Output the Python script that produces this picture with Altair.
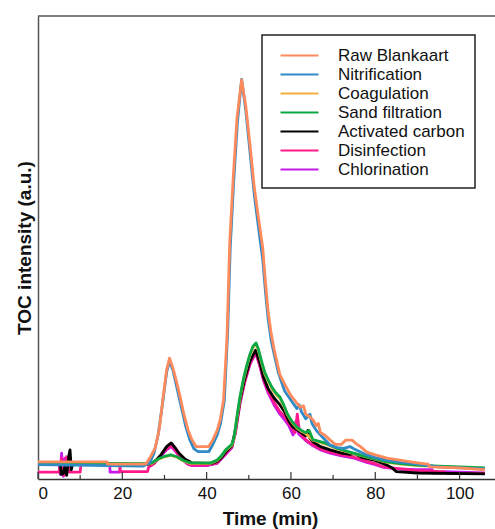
import altair as alt
import pandas as pd

# ---- data (time in min, TOC intensity in arbitrary units) ----
series_names = ["Raw Blankaart", "Nitrification", "Coagulation", "Sand filtration",
                "Activated carbon", "Disinfection", "Chlorination"]
series_colors = ["#FF8A5C", "#2F8AC6", "#F5B041", "#0AA844", "#000000", "#FF1A8C", "#C41BE8"]

raw_blankaart = [(0, 3.7), (16.4, 3.7), (16.5, 3.2), (25.5, 3.2), (26.5, 4.5), (27.8, 6.7), (28.8, 11.0),
                 (29.7, 17.8), (30.5, 23.5), (31.2, 26.1), (32.0, 24.0), (33.0, 20.5), (33.7, 17.8),
                 (34.6, 14.0), (35.6, 10.6), (36.5, 8.5), (37.5, 7.0), (40.5, 7.0), (41.5, 8.5), (42.5, 10.5),
                 (43.2, 12.7), (44.0, 17.0), (44.8, 30.0), (45.5, 51.6), (46.3, 65.0), (47.2, 78.0),
                 (48.3, 86.2), (49.3, 80.5), (50.3, 72.0), (51.3, 63.0), (52.2, 57.0), (52.7, 53.8),
                 (53.3, 50.0), (54.0, 42.0), (54.6, 36.0), (55.3, 31.5), (56.0, 28.0), (57.0, 24.0),
                 (57.4, 22.5), (58.5, 20.5), (60.0, 18.0), (61.4, 16.4), (62.2, 15.5), (63.0, 15.8),
                 (63.5, 14.0), (64.5, 13.4), (65.3, 12.7), (66.0, 11.5), (66.5, 12.0), (67.0, 10.0),
                 (68.0, 9.5), (69.3, 8.4), (70.5, 7.5), (72.0, 7.5), (73.0, 8.4), (74.5, 8.4), (75.5, 7.6),
                 (76.5, 7.0), (78.0, 5.8), (80.0, 5.2), (82.8, 4.5), (85.0, 4.2), (90.0, 3.5), (92.5, 3.2),
                 (93.0, 2.6), (100.0, 2.4), (106.0, 2.0)]

nitrification = [(0, 3.1), (25.0, 2.8), (26.5, 3.5), (27.5, 5.5), (28.5, 9.5), (29.5, 16.0), (30.5, 23.0),
                 (31.2, 25.5), (32.0, 23.5), (33.0, 19.5), (34.0, 15.5), (35.0, 11.5), (36.0, 8.5),
                 (37.0, 6.5), (38.0, 5.9), (40.5, 5.9), (41.5, 7.5), (42.5, 9.5), (43.3, 12.0), (44.2, 17.0),
                 (45.0, 32.0), (45.6, 50.0), (46.4, 64.0), (47.3, 77.0), (48.3, 86.3), (49.3, 79.5),
                 (50.3, 70.5), (51.3, 61.5), (52.2, 55.0), (52.7, 51.5), (53.3, 47.5), (54.0, 40.0),
                 (54.6, 34.5), (55.3, 30.0), (56.0, 27.0), (57.0, 23.0), (58.5, 19.0), (60.0, 17.0),
                 (61.4, 15.2), (62.0, 16.0), (62.5, 14.5), (63.5, 13.0), (64.5, 14.0), (65.0, 12.0),
                 (66.0, 10.5), (67.5, 9.0), (69.3, 7.3), (71.0, 6.8), (72.5, 6.6), (74.0, 7.0), (75.0, 6.5),
                 (78.0, 5.2), (80.0, 4.6), (83.0, 4.0), (86.0, 3.6), (90.0, 3.2), (95.0, 2.6),
                 (100.0, 2.4), (106.0, 2.2)]

coagulation = [(0, 3.4), (26.0, 3.2), (27.0, 3.4), (28.5, 4.2), (30.0, 4.8), (31.5, 5.1), (33.0, 4.7),
               (34.5, 3.9), (36.0, 3.4), (41.0, 3.4), (42.5, 4.0), (43.5, 4.9), (44.5, 6.2), (46.0, 7.3),
               (46.5, 8.8), (47.2, 13.2), (47.9, 17.4), (48.7, 21.2), (49.5, 24.2), (50.3, 26.7),
               (51.0, 28.4), (51.7, 29.1), (52.3, 27.7), (53.0, 25.2), (53.8, 22.7), (54.6, 21.1),
               (55.5, 19.5), (56.5, 18.2), (57.4, 17.4), (58.3, 15.7), (59.2, 13.8), (60.2, 12.3),
               (61.4, 11.0), (62.5, 10.3), (63.5, 9.8), (65.2, 8.4), (68.0, 7.6), (71.0, 6.5),
               (74.0, 5.7), (78.0, 4.7), (82.8, 3.6), (86.0, 3.2), (90.0, 2.9), (100.0, 2.5), (106.0, 2.3)]

sand_filtration = [(0, 3.5), (26.0, 3.3), (27.0, 3.5), (28.5, 4.3), (30.0, 4.9), (31.5, 5.2), (33.0, 4.8),
                   (34.5, 4.0), (36.0, 3.5), (41.0, 3.5), (42.5, 4.1), (43.5, 5.0), (44.5, 6.3), (46.0, 7.5),
                   (46.5, 9.0), (47.2, 13.5), (47.9, 17.7), (48.7, 21.5), (49.5, 24.5), (50.3, 27.0),
                   (51.0, 28.7), (51.7, 29.4), (52.3, 28.0), (53.0, 25.5), (53.8, 23.0), (54.6, 21.4),
                   (55.5, 19.8), (56.5, 18.5), (57.4, 17.7), (58.3, 16.0), (59.2, 14.0), (60.2, 12.5),
                   (61.4, 11.2), (62.5, 10.5), (63.5, 10.0), (64.3, 10.5), (65.2, 8.5), (66.5, 8.2),
                   (68.0, 7.8), (69.3, 7.3), (71.0, 6.6), (74.0, 5.8), (78.0, 4.8), (82.8, 3.7),
                   (86.0, 3.3), (90.0, 3.0), (95.0, 2.8), (100.0, 2.6), (106.0, 2.4)]

activated_carbon = [(0, 3.2), (5.3, 3.2), (5.5, 1.0), (6.0, 1.2), (6.3, 2.5), (6.8, 0.8), (7.3, 5.0),
                    (7.6, 6.3), (7.9, 2.0), (8.2, 3.2), (26.5, 3.2), (27.5, 3.6), (29.0, 5.0), (30.5, 7.0),
                    (31.6, 7.8), (32.5, 6.8), (33.5, 5.5), (35.0, 4.2), (36.5, 3.5), (41.0, 3.3), (42.5, 3.8),
                    (43.5, 4.6), (44.5, 5.8), (46.0, 7.2), (46.8, 10.5), (47.9, 17.0), (49.0, 21.5),
                    (50.3, 25.5), (51.6, 27.8), (52.5, 25.5), (53.5, 22.0), (54.6, 19.5), (56.0, 17.5),
                    (57.4, 16.0), (58.5, 14.5), (59.5, 12.5), (60.5, 11.2), (62.2, 10.2), (63.5, 9.3),
                    (64.0, 10.5), (64.5, 8.8), (65.3, 8.0), (67.0, 7.0), (69.3, 6.3), (72.0, 5.6),
                    (74.0, 5.3), (75.0, 5.5), (77.0, 4.6), (80.0, 4.0), (82.8, 3.0), (84.0, 2.4),
                    (85.0, 1.6), (90.0, 1.3), (106.0, 1.1)]

disinfection = [(0, 1.5), (5.0, 1.5), (5.6, 4.5), (6.2, 0.8), (6.8, 4.8), (7.4, 1.5), (10.0, 1.5),
                (10.2, 3.2), (19.4, 3.2), (19.5, 1.6), (26.0, 1.6), (26.2, 2.5), (27.5, 3.3), (29.0, 5.0),
                (30.5, 6.5), (31.6, 7.2), (32.5, 6.3), (34.0, 4.5), (35.5, 3.3), (36.5, 3.0), (40.0, 3.0),
                (42.5, 3.5), (44.5, 5.5), (46.0, 7.0), (46.8, 10.0), (47.9, 16.5), (49.0, 21.0),
                (50.3, 25.0), (51.6, 27.4), (52.5, 25.0), (53.5, 21.5), (54.6, 19.0), (56.0, 16.5),
                (57.4, 14.5), (58.5, 13.5), (59.5, 12.0), (61.0, 10.0), (61.5, 14.0), (62.0, 10.5),
                (62.5, 9.5), (63.5, 8.5), (65.0, 7.5), (67.0, 6.5), (69.3, 5.8), (72.0, 5.2), (75.0, 4.7),
                (78.0, 3.8), (80.0, 3.3), (82.0, 2.6), (85.0, 2.3), (90.0, 1.8), (96.0, 1.6), (97.0, 1.2),
                (106.0, 1.2)]

chlorination = [(0, 3.2), (5.0, 3.2), (5.3, 1.0), (5.6, 5.6), (6.0, 0.6), (6.4, 4.5), (6.8, 3.2),
                (17.0, 3.2), (17.1, 1.5), (19.4, 1.5), (19.5, 3.1), (26.0, 3.1), (27.5, 3.3), (29.0, 4.8),
                (30.5, 6.3), (31.6, 7.0), (32.5, 6.1), (34.0, 4.4), (35.5, 3.2), (36.5, 2.9), (40.0, 2.9),
                (42.5, 3.4), (44.5, 5.3), (46.0, 6.8), (46.8, 9.8), (47.9, 16.2), (49.0, 20.8),
                (50.3, 24.8), (51.6, 27.2), (52.5, 24.8), (53.5, 21.2), (54.6, 18.6), (56.0, 16.0),
                (57.4, 14.0), (58.5, 12.8), (59.5, 11.5), (60.5, 9.5), (61.2, 12.5), (61.8, 9.8),
                (63.5, 8.3), (65.0, 7.3), (67.0, 6.3), (69.3, 5.6), (72.0, 5.0), (75.0, 4.5), (78.0, 3.6),
                (80.0, 3.1), (82.0, 2.5), (85.0, 2.2), (90.0, 2.0), (93.5, 2.0), (93.6, 1.3), (96.0, 1.3),
                (96.1, 1.6), (106.0, 1.3)]

major_ticks = [0, 20, 40, 60, 80, 100]
minor_ticks = [10, 30, 50, 70, 90]
y_top = [100]

all_series = {
    "Raw Blankaart": raw_blankaart,
    "Nitrification": nitrification,
    "Coagulation": coagulation,
    "Sand filtration": sand_filtration,
    "Activated carbon": activated_carbon,
    "Disinfection": disinfection,
    "Chlorination": chlorination,
}

# drawing order (bottom -> top)
draw_order = ["Chlorination", "Disinfection", "Activated carbon", "Coagulation",
              "Sand filtration", "Nitrification", "Raw Blankaart"]

XMAX = 108.4
xscale = alt.Scale(domain=[0, XMAX], nice=False, zero=False)
yscale = alt.Scale(domain=[0, 100], nice=False)
cscale = alt.Scale(domain=series_names, range=series_colors)

legend = alt.Legend(
    title=None, orient="none", legendX=224, legendY=19,
    symbolType="M-2,0H2", symbolSize=361, symbolStrokeWidth=2,
    labelFontSize=17, labelFont="Liberation Sans", labelColor="#111",
    padding=10, symbolOffset=17, labelOffset=28, rowPadding=0,
    strokeColor="#222", labelExpr="datum.label + '\u00a0\u00a0'",
)

xaxis = alt.Axis(values=major_ticks, format="d", ticks=False, grid=False,
                 domainColor="#333", domainWidth=1.5,
                 labelFontSize=17, labelFont="Liberation Sans", labelColor="#111", labelPadding=6,
                 title="Time (min)", titleFontSize=19, titleFont="Liberation Sans",
                 titleFontWeight="bold", titleColor="#111", titlePadding=8, titleX=232)
yaxis = alt.Axis(labels=False, ticks=False, grid=False, domainColor="#555", domainWidth=1.5,
                 title="TOC intensity (a.u.)", titleFontSize=19, titleFont="Liberation Sans",
                 titleFontWeight="bold", titleColor="#111", titlePadding=4)

layers = []
for name in draw_order:
    pts = all_series[name]
    df = pd.DataFrame({"t": [p[0] for p in pts], "v": [p[1] for p in pts],
                       "i": list(range(len(pts))), "series": name})
    layers.append(
        alt.Chart(df).mark_line(strokeWidth=2.8, strokeJoin="round").encode(
            x=alt.X("t:Q", scale=xscale, axis=xaxis),
            y=alt.Y("v:Q", scale=yscale, axis=yaxis),
            color=alt.Color("series:N", scale=cscale, legend=legend),
            order=alt.Order("i:Q"),
        )
    )

major_df = pd.DataFrame({"t": major_ticks})
minor_df = pd.DataFrame({"t": minor_ticks})
major_rule = alt.Chart(major_df).mark_rule(color="#333", strokeWidth=1.2).encode(
    x=alt.X("t:Q", scale=xscale, axis=xaxis), y=alt.value(463), y2=alt.value(456))
minor_rule = alt.Chart(minor_df).mark_rule(color="#333", strokeWidth=1.2).encode(
    x=alt.X("t:Q", scale=xscale, axis=xaxis), y=alt.value(463), y2=alt.value(459))

# top frame line at the top of the y range
top_line = alt.Chart(pd.DataFrame({"v": y_top})).mark_rule(color="#555", strokeWidth=1.5).encode(
    y=alt.Y("v:Q", scale=yscale, axis=yaxis))

chart = alt.layer(*layers, major_rule, minor_rule, top_line).properties(
    width=457, height=463,
    padding={"left": 38, "top": 16, "right": 0, "bottom": 50},
    autosize=alt.AutoSizeParams(type="none"),
).configure_view(strokeWidth=0).configure_legend(strokeWidth=1.5)

chart.save("out.html", embed_options={"renderer": "svg", "actions": False})
